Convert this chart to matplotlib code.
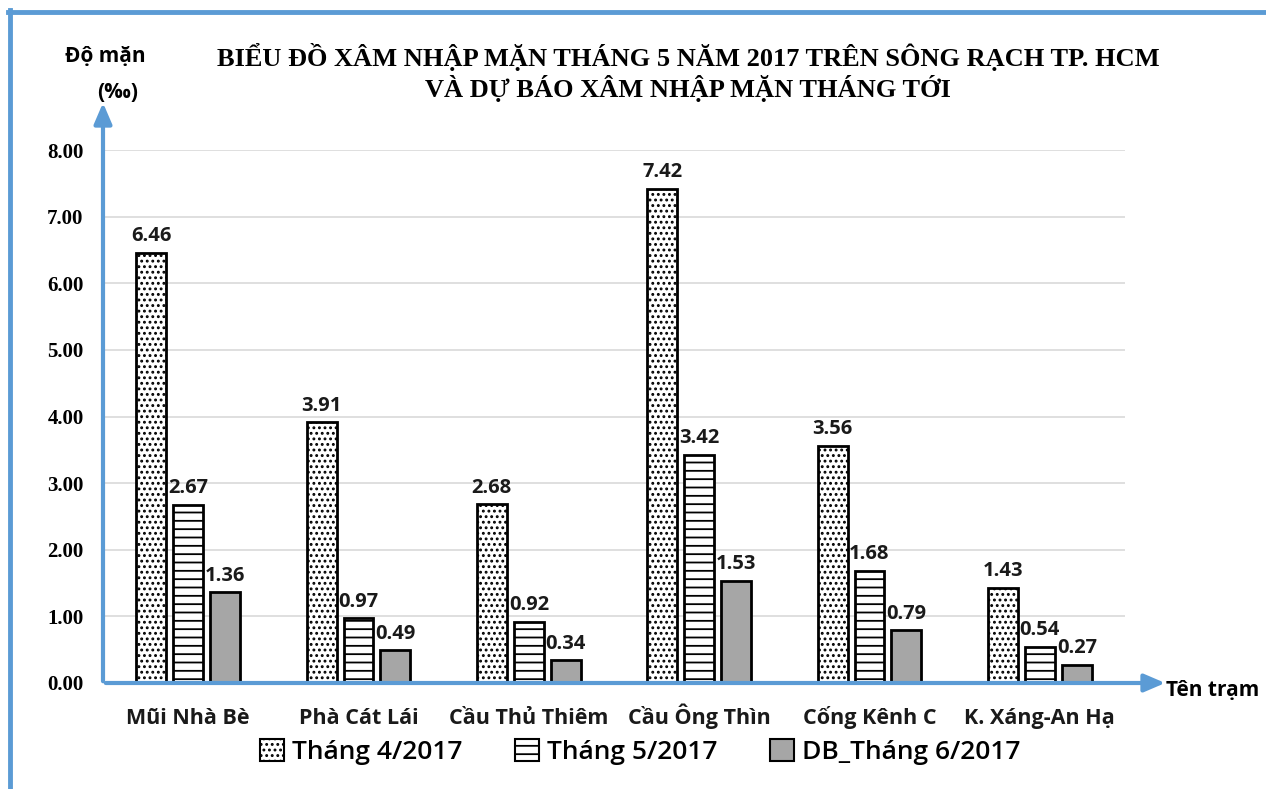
import matplotlib
matplotlib.use("Agg")
import matplotlib.pyplot as plt
import numpy as np
from matplotlib.lines import Line2D
from matplotlib.patches import Patch, FancyArrowPatch
import matplotlib.transforms as mtrans

categories = ["Mũi Nhà Bè", "Phà Cát Lái", "Cầu Thủ Thiêm", "Cầu Ông Thìn", "Cống Kênh C", "K. Xáng-An Hạ"]
series_names = ["Tháng 4/2017", "Tháng 5/2017", "DB_Tháng 6/2017"]
thang4 = [6.46, 3.91, 2.68, 7.42, 3.56, 1.43]
thang5 = [2.67, 0.97, 0.92, 3.42, 1.68, 0.54]
thang6 = [1.36, 0.49, 0.34, 1.53, 0.79, 0.27]
yticks = [0, 1, 2, 3, 4, 5, 6, 7, 8]

W, H = 1266, 789
fig = plt.figure(figsize=(W/100, H/100), dpi=100)
fig.patch.set_facecolor("white")

ax_l, ax_r, ax_b, ax_t = 103, 1125, 683, 150
ax = fig.add_axes([ax_l/W, 1-ax_b/H, (ax_r-ax_l)/W, (ax_b-ax_t)/H])
ax.set_xlim(-0.5, 5.5)
ax.set_ylim(0, 8)
for s in ax.spines.values():
    s.set_visible(False)

blue = "#5B9BD5"
sans = ["Open Sans", "DejaVu Sans"]
serif = ["Liberation Serif", "DejaVu Serif"]

x = np.arange(len(categories))
bw = 0.176
off = 0.217
styles = [dict(color="white", hatch="..."), dict(color="white", hatch="--"), dict(color="#A6A6A6", hatch=None)]
data = [thang4, thang5, thang6]
plt.rcParams['hatch.linewidth'] = 1.3
for i, (vals, st) in enumerate(zip(data, styles)):
    ax.bar(x + (i-1)*off, vals, bw, color=st["color"], hatch=st["hatch"],
           edgecolor="black", linewidth=2, zorder=3)
    for xi, v in zip(x + (i-1)*off, vals):
        ax.text(xi, v + 0.1, f"{v:.2f}", ha="center", va="bottom", fontsize=14.5,
                fontweight="bold", family=sans, color="#1a1a1a", zorder=4)

ax.set_yticks(yticks)
ax.set_yticklabels([f"{t:.2f}" for t in yticks], family=serif, fontweight="bold", fontsize=15)
ax.tick_params(axis="y", length=0, pad=14)
ax.set_xticks(x)
ax.set_xticklabels([])
ax.tick_params(axis="x", length=0)
trans = mtrans.blended_transform_factory(ax.transData, fig.transFigure)
for xi, c in zip(x, categories):
    ax.text(xi, 1-724/H, c, transform=trans, ha="center", va="baseline", family=sans,
            fontweight="bold", fontsize=15.5, color="#1a1a1a")
ax.grid(axis="y", color="#D9D9D9", linewidth=1.2, zorder=0)
ax.set_axisbelow(True)

# axis arrows
fig.add_artist(FancyArrowPatch((ax_l/W, 1-ax_b/H), (1168/W, 1-ax_b/H),
               transform=fig.transFigure, arrowstyle="-|>,head_length=4.2,head_width=1.8",
               color=blue, linewidth=3, mutation_scale=3, zorder=5))
fig.add_artist(FancyArrowPatch((ax_l/W, 1-(ax_b+1)/H), (ax_l/W, 1-100/H),
               transform=fig.transFigure, arrowstyle="-|>,head_length=4.2,head_width=1.8",
               color=blue, linewidth=3, mutation_scale=3, zorder=5))

# frame lines
fig.add_artist(Line2D([8/W, 1], [1-12/H, 1-12/H], color=blue, linewidth=3.5, transform=fig.transFigure))
fig.add_artist(Line2D([10/W, 10/W], [0, 1-10/H], color=blue, linewidth=3.5, transform=fig.transFigure))

fig.text(688/W, 1-57/H, "BIỂU ĐỒ XÂM NHẬP MẶN THÁNG 5 NĂM 2017 TRÊN SÔNG RẠCH TP. HCM",
         ha="center", va="center", family=serif, fontweight="bold", fontsize=19)
fig.text(688/W, 1-88/H, "VÀ DỰ BÁO XÂM NHẬP MẶN THÁNG TỚI",
         ha="center", va="center", family=serif, fontweight="bold", fontsize=19)
fig.text(105/W, 1-57/H, "Độ mặn", ha="center", va="center", family=sans, fontweight="bold", fontsize=15)
fig.text(118/W, 1-92/H, "(‰)", ha="center", va="center", family=sans, fontweight="bold", fontsize=15)
fig.text(1213/W, 1-691/H, "Tên trạm", ha="center", va="center", family=sans, fontweight="bold", fontsize=15)

handles = [Patch(facecolor=st["color"], hatch=st["hatch"], edgecolor="black", linewidth=1.5) for st in styles]
fig.legend(handles, series_names, loc="center", bbox_to_anchor=(640/W, 1-752/H), ncol=3,
           frameon=False, prop=dict(family=sans, size=19, weight="semibold"), handlelength=0.9, handleheight=0.9,
           handletextpad=0.3, columnspacing=2.0)

fig.savefig("out.png", dpi=100, facecolor="white")
